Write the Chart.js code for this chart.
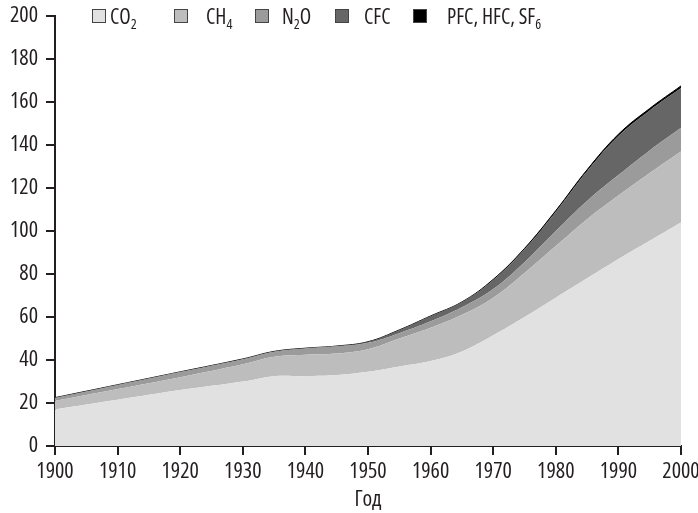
<!DOCTYPE html>
<html>
<head>
<meta charset="utf-8">
<script src="https://cdn.jsdelivr.net/npm/chart.js@4"></script>
<style>
  html, body { margin: 0; padding: 0; background: #fff; }
  #wrap { position: relative; width: 698px; height: 513px; }
  canvas { display: block; }
  #legend { position: absolute; left: 0; top: 0; width: 698px; height: 40px; font-family: 'Open Sans', sans-serif; font-stretch: condensed; font-weight: 500; font-size: 21px; color: #231f20; }
  .item { position: absolute; top: 4px; height: 24px; line-height: 24px; white-space: nowrap; }
  .box { position: absolute; top: 5px; width: 12px; height: 12px; border: 1px solid #444; }
  .txt { position: absolute; top: 0; }
  sub { font-size: 14px; vertical-align: -5px; line-height: 0; }
</style>
</head>
<body>
<div id="wrap">
  <canvas id="c" width="698" height="513"></canvas>
  <div id="legend"></div>
</div>
<script>
// Data: contribution of each gas (stacked)
const years = [1900, 1910, 1920, 1930, 1935, 1940, 1945, 1950, 1955, 1960, 1965, 1970, 1975, 1980, 1985, 1990, 1995, 2000];
const co2   = [17, 21.5, 26, 30, 32.5, 32.5, 33, 34.5, 37, 39.5, 44, 51.5, 60, 69, 78, 87, 95.5, 104];
const ch4   = [4, 5, 6, 8, 9, 10, 10, 10.5, 13, 15.5, 17, 17.5, 20.5, 24, 27.5, 29.5, 31.5, 33];
const n2o   = [1.5, 2, 2.5, 2.5, 2.5, 3, 3.5, 3, 2.5, 3, 3.5, 4, 5, 7, 8.5, 9.5, 10.5, 11];
const cfc   = [0, 0, 0, 0, 0, 0, 0, 0.5, 1.5, 2.5, 2.5, 4.2, 6, 9, 13.8, 18.2, 18.6, 18.5];
const pfc   = [0, 0, 0, 0, 0, 0, 0, 0, 0, 0, 0, 0.3, 0.4, 0.5, 0.7, 0.8, 0.9, 1];

const seriesNames = ['CO₂', 'CH₄', 'N₂O', 'CFC', 'PFC, HFC, SF₆'];
const seriesHtml  = ['CO<sub>2</sub>', 'CH<sub>4</sub>', 'N<sub>2</sub>O', 'CFC', 'PFC, HFC, SF<sub>6</sub>'];
const seriesData  = [co2, ch4, n2o, cfc, pfc];
const seriesColors = ['#e1e1e1', '#bdbdbd', '#9b9b9b', '#666666', '#000000'];

const xTickMin = 1900, xTickMax = 2000, xTickStep = 10;
const yTickMin = 0, yTickMax = 200, yTickStep = 20;
const xTitle = 'Год';

const FONT = "'Open Sans', sans-serif";
const INK = '#231f20';
const tickFont = { family: FONT, size: 22, weight: '500 condensed' };

const datasets = seriesData.map((vals, i) => ({
  label: seriesNames[i],
  data: years.map((y, j) => ({ x: y, y: vals[j] })),
  backgroundColor: seriesColors[i],
  borderColor: seriesColors[i],
  borderWidth: i === 4 ? 1 : 0,
  pointRadius: 0,
  tension: 0.4,
  fill: i === 0 ? 'origin' : '-1'
}));

new Chart(document.getElementById('c'), {
  type: 'line',
  data: { datasets },
  options: {
    responsive: false,
    animation: false,
    layout: { padding: { top: 16, right: 0, left: 0, bottom: 0 } },
    plugins: { legend: { display: false }, tooltip: { enabled: false } },
    scales: {
      x: {
        type: 'linear',
        min: xTickMin, max: xTickMax,
        ticks: { stepSize: xTickStep, color: INK, font: tickFont, maxRotation: 0, padding: 4, callback: v => String(v) },
        grid: { display: true, drawOnChartArea: false, drawTicks: true, tickLength: 9, color: INK, lineWidth: 2 },
        border: { display: true, color: INK, width: 2 },
        title: { display: true, text: xTitle, color: INK, font: tickFont, padding: { top: 0, bottom: 0 } },
        afterFit: s => { s.height = 67; s.paddingRight = 17; s.paddingLeft = 0; }
      },
      y: {
        stacked: true,
        min: yTickMin, max: yTickMax,
        ticks: { stepSize: yTickStep, color: INK, font: tickFont, padding: 8 },
        grid: { display: true, drawOnChartArea: false, drawTicks: true, tickLength: 9, color: INK, lineWidth: 2 },
        border: { display: true, color: INK, width: 2 },
        afterFit: s => { s.width = 55; s.paddingTop = 0; s.paddingBottom = 0; }
      }
    }
  }
});

// HTML legend (real text with subscripts)
const legendBoxX = [92, 174, 255, 335, 413];
const legendTxtX = [110, 206, 282, 364, 447];
const lg = document.getElementById('legend');
seriesHtml.forEach((h, i) => {
  const b = document.createElement('div');
  b.className = 'item';
  b.style.left = legendBoxX[i] + 'px';
  b.innerHTML = '<span class="box" style="left:0;background:' + seriesColors[i] + '"></span>' +
                '<span class="txt" style="left:' + (legendTxtX[i] - legendBoxX[i]) + 'px">' + h + '</span>';
  lg.appendChild(b);
});
</script>
</body>
</html>
